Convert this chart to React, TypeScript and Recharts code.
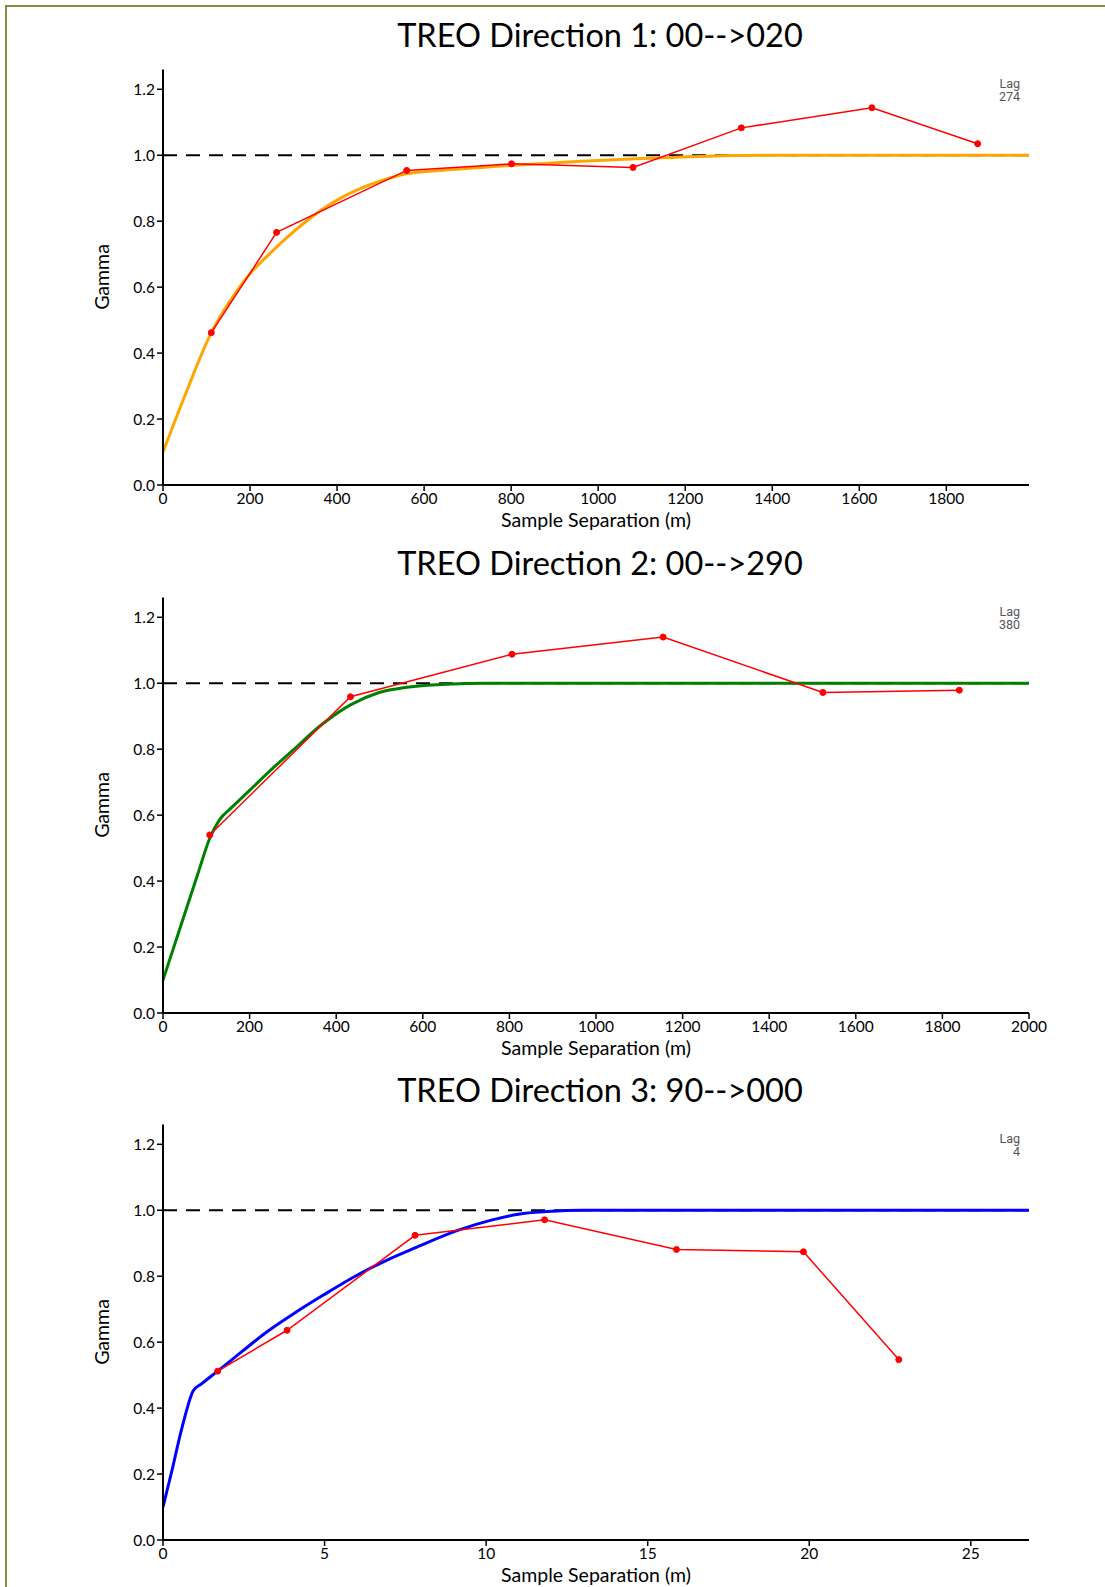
import { LineChart, Line, XAxis, YAxis, ReferenceLine } from "recharts";

const gammaTicks = [0, 0.2, 0.4, 0.6, 0.8, 1.0, 1.2];

// Direction 1: 00-->020
const dir1Lag = [111, 261, 560, 801, 1080, 1329, 1629, 1872];
const dir1Gamma = [0.462, 0.766, 0.954, 0.974, 0.963, 1.083, 1.144, 1.035];
const dir1ModelLag = [0, 50, 111, 160, 200, 240, 280, 320, 360, 400, 450, 500, 560, 650, 800, 950, 1100, 1250, 1400, 1990];
const dir1ModelGamma = [0.1, 0.27, 0.462, 0.57, 0.641, 0.695, 0.745, 0.79, 0.83, 0.864, 0.897, 0.922, 0.944, 0.955, 0.969, 0.981, 0.99, 0.997, 1.0, 1.0];
const dir1Ticks = [0, 200, 400, 600, 800, 1000, 1200, 1400, 1600, 1800];

// Direction 2: 00-->290
const dir2Lag = [108, 433, 806, 1155, 1524, 1839];
const dir2Gamma = [0.54, 0.959, 1.088, 1.14, 0.972, 0.979];
const dir2ModelLag = [0, 20, 50, 80, 108, 130, 160, 200, 250, 300, 369, 434, 499, 564, 654, 745, 2000];
const dir2ModelGamma = [0.1, 0.18, 0.3, 0.42, 0.53, 0.585, 0.625, 0.675, 0.738, 0.797, 0.877, 0.935, 0.972, 0.988, 0.997, 1.0, 1.0];
const dir2Ticks = [0, 200, 400, 600, 800, 1000, 1200, 1400, 1600, 1800, 2000];

// Direction 3: 90-->000
const dir3Lag = [1.69, 3.84, 7.8, 11.81, 15.89, 19.82, 22.77];
const dir3Gamma = [0.512, 0.636, 0.924, 0.971, 0.881, 0.874, 0.547];
const dir3ModelLag = [0, 0.15, 0.3, 0.45, 0.6, 0.75, 0.85, 0.93, 1.2, 1.69, 2.4, 3.21, 4.1, 4.95, 6.17, 7.0, 7.8, 9.12, 10.16, 11.0, 11.9, 13.0, 26.8];
const dir3ModelGamma = [0.1, 0.16, 0.22, 0.285, 0.345, 0.4, 0.432, 0.452, 0.474, 0.512, 0.568, 0.631, 0.69, 0.742, 0.812, 0.852, 0.886, 0.939, 0.97, 0.988, 0.996, 1.0, 1.0];
const dir3Ticks = [0, 5, 10, 15, 20, 25];

const toPoints = (xs: number[], ys: number[]) => xs.map((x, i) => ({ x, y: ys[i] }));

const FONT = "Lato, 'Open Sans', sans-serif";

function Panel({
  top,
  title,
  lag,
  xMax,
  xTicks,
  model,
  experimental,
  color,
}: {
  top: number;
  title: string;
  lag: string;
  xMax: number;
  xTicks: number[];
  model: { x: number; y: number }[];
  experimental: { x: number; y: number }[];
  color: string;
}) {
  return (
    <div style={{ position: "absolute", left: 0, top, width: 1105, height: 528 }}>
      <div
        style={{
          position: "absolute",
          left: 167,
          width: 866,
          top: 14,
          textAlign: "center",
          fontFamily: FONT,
          fontSize: 32.5,
          lineHeight: "42px",
          color: "#000",
        }}
      >
        {title}
      </div>
      <LineChart width={1105} height={528} margin={{ top: 69.5, right: 76, bottom: 13, left: 103 }}>
        <XAxis
          type="number"
          dataKey="x"
          domain={[0, xMax]}
          ticks={xTicks}
          allowDataOverflow
          height={30}
          axisLine={{ stroke: "#000", strokeWidth: 2 }}
          tickLine={{ stroke: "#000", strokeWidth: 1.5 }}
          tick={{ fill: "#000", fontSize: 15.5, fontFamily: FONT }}
        />
        <YAxis
          type="number"
          domain={[0, 1.26]}
          ticks={gammaTicks}
          width={60}
          allowDataOverflow
          tickFormatter={(v: number) => v.toFixed(1)}
          axisLine={{ stroke: "#000", strokeWidth: 2 }}
          tickLine={{ stroke: "#000", strokeWidth: 1.5 }}
          tick={{ fill: "#000", fontSize: 15.5, fontFamily: FONT }}
        />
        <ReferenceLine y={1} stroke="#000" strokeWidth={2} strokeDasharray="14 9" />
        <Line
          data={model}
          dataKey="y"
          type="monotone"
          stroke={color}
          strokeWidth={3}
          dot={false}
          isAnimationActive={false}
        />
        <Line
          data={experimental}
          dataKey="y"
          type="linear"
          stroke="#ff0000"
          strokeWidth={1.5}
          dot={{ r: 3, fill: "#ff0000", stroke: "#ff0000", strokeWidth: 1 }}
          isAnimationActive={false}
        />
      </LineChart>
      <div
        style={{
          position: "absolute",
          left: 960,
          width: 60,
          top: 77,
          textAlign: "right",
          fontFamily: "'Liberation Sans Narrow', Roboto, sans-serif",
          fontSize: 12.5,
          lineHeight: "13px",
          color: "#555",
        }}
      >
        Lag
        <br />
        {lag}
      </div>
      <div
        style={{
          position: "absolute",
          left: 101,
          top: 277,
          transform: "translate(-50%, -50%) rotate(-90deg)",
          fontFamily: FONT,
          fontSize: 19.5,
          whiteSpace: "nowrap",
          color: "#000",
        }}
      >
        Gamma
      </div>
      <div
        style={{
          position: "absolute",
          left: 163,
          width: 866,
          top: 508,
          textAlign: "center",
          fontFamily: FONT,
          fontSize: 19.5,
          lineHeight: "24px",
          color: "#000",
        }}
      >
        Sample Separation (m)
      </div>
    </div>
  );
}

export default function App() {
  return (
    <div
      style={{
        position: "absolute",
        left: 0,
        top: 0,
        width: 1105,
        height: 1587,
        background: "#fff",
        overflow: "hidden",
      }}
    >
      <div
        style={{
          position: "absolute",
          left: 5,
          top: 5,
          width: 1200,
          height: 1700,
          borderTop: "2px solid #7f8f3f",
          borderLeft: "2px solid #7f8f3f",
        }}
      />
      <Panel
        top={0}
        title="TREO Direction 1: 00-->020"
        lag="274"
        xMax={1990}
        xTicks={dir1Ticks}
        model={toPoints(dir1ModelLag, dir1ModelGamma)}
        experimental={toPoints(dir1Lag, dir1Gamma)}
        color="#ffa500"
      />
      <Panel
        top={527.5}
        title="TREO Direction 2: 00-->290"
        lag="380"
        xMax={2000}
        xTicks={dir2Ticks}
        model={toPoints(dir2ModelLag, dir2ModelGamma)}
        experimental={toPoints(dir2Lag, dir2Gamma)}
        color="#008000"
      />
      <Panel
        top={1055}
        title="TREO Direction 3: 90-->000"
        lag="4"
        xMax={26.8}
        xTicks={dir3Ticks}
        model={toPoints(dir3ModelLag, dir3ModelGamma)}
        experimental={toPoints(dir3Lag, dir3Gamma)}
        color="#0000ff"
      />
    </div>
  );
}
